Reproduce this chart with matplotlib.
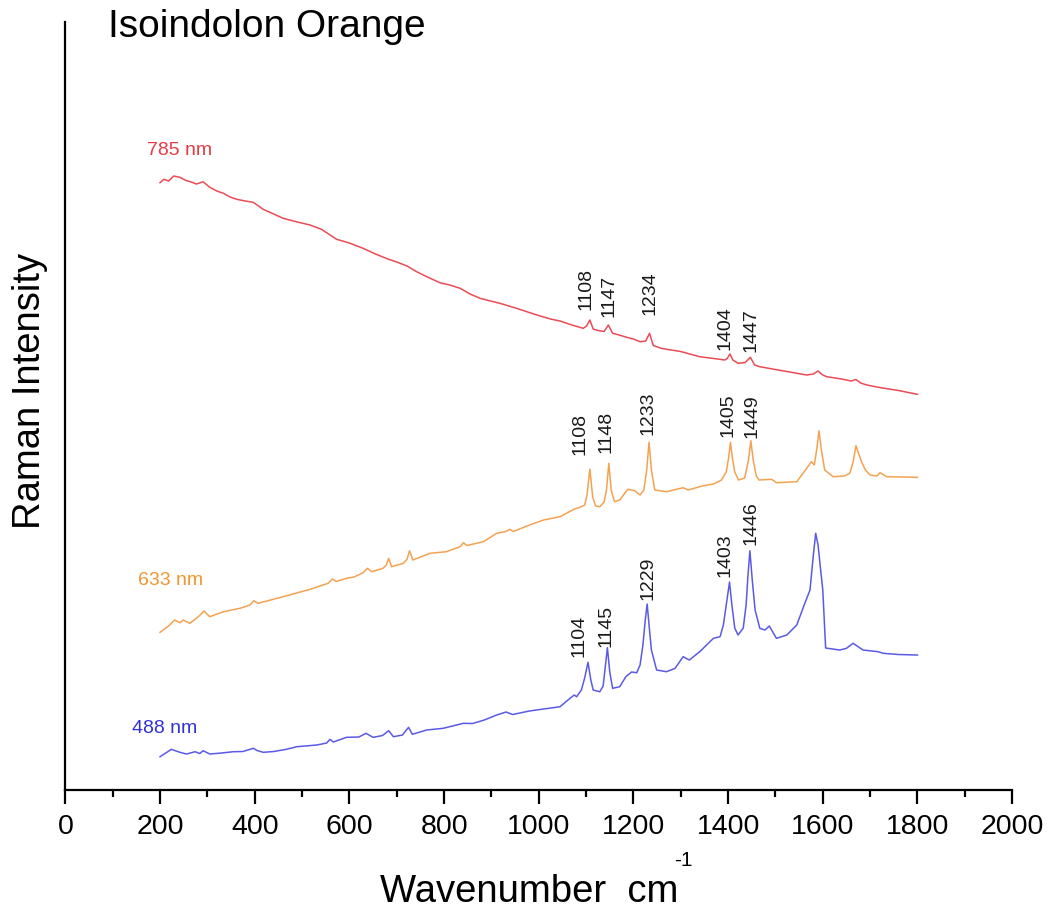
import matplotlib
matplotlib.use("Agg")
import matplotlib.pyplot as plt
from matplotlib.ticker import MultipleLocator

plt.rcParams['font.family'] = ['Liberation Sans', 'DejaVu Sans']

# 785 nm excitation
wn_785 = [200, 208, 218, 229, 242, 256, 266, 277, 291, 305, 320, 334, 348, 362, 380,
          397, 418, 440, 460, 490, 517, 541, 573, 600, 629, 655, 683, 700, 722, 742,
          765, 791, 812, 834, 855, 876, 898, 918, 953, 980, 1003, 1025, 1045, 1070,
          1094, 1101, 1108, 1115, 1125, 1138, 1147, 1156, 1170, 1186, 1200, 1214,
          1226, 1234, 1242, 1260, 1300, 1340, 1370, 1393, 1398, 1404, 1410, 1421,
          1436, 1447, 1456, 1467, 1500, 1530, 1566, 1580, 1590, 1600, 1608, 1640,
          1660, 1670, 1680, 1693, 1720, 1760, 1800]
int_785 = [607.3, 610.7, 609, 614, 612.7, 609.3, 608, 606, 608.3, 602.7, 599, 596.7,
           593, 590.7, 589, 587.7, 580.7, 576, 571.7, 568, 565, 560.7, 550.7, 547,
           541.7, 536, 530.7, 528, 524, 518.3, 513, 507.3, 505, 501.7, 496, 491.7,
           489, 486.7, 481.7, 477.5, 474, 471, 469, 465, 461.7, 464, 470, 461,
           459.5, 458.5, 465, 456.7, 455, 452.7, 451, 448.3, 449, 456.7, 444.5,
           441.5, 438.5, 433.3, 431.5, 430, 431.5, 436, 430, 426.7, 427.5, 432.7,
           425, 423.3, 420.5, 418, 415, 416, 419, 415, 413.3, 411, 409, 410.5, 407,
           405, 402.5, 399.5, 395.7]

# 633 nm excitation
wn_633 = [200, 218, 231, 242, 249, 263, 281, 293, 305, 334, 369, 390, 398, 407, 460,
          517, 555, 564, 572, 594, 610, 629, 638, 647, 671, 678, 683, 689, 714, 722,
          727, 734, 770, 805, 834, 841, 848, 883, 911, 930, 939, 946, 975, 1010,
          1045, 1074, 1087, 1097, 1102, 1108, 1114, 1120, 1129, 1138, 1143, 1148,
          1153, 1160, 1171, 1188, 1203, 1214, 1222, 1228, 1233, 1238, 1245, 1270,
          1305, 1316, 1347, 1369, 1386, 1396, 1401, 1405, 1409, 1414, 1422, 1435,
          1443, 1448, 1453, 1459, 1465, 1492, 1502, 1545, 1566, 1576, 1582, 1587,
          1592, 1597, 1604, 1622, 1645, 1657, 1664, 1670, 1676, 1682, 1690, 1700,
          1714, 1721, 1735, 1800]
int_633 = [157.7, 164, 170, 167.3, 170, 166.7, 173.3, 179, 173.3, 178.3, 181.7, 185,
           189.3, 186.7, 193.3, 200.7, 206.7, 211, 208.5, 211.7, 213, 217.3, 221.7,
           218.3, 221.7, 225, 231.7, 223.3, 226.7, 231, 239.3, 230, 236.7, 238.3,
           243.3, 247.3, 244.5, 248.3, 256.7, 258.5, 260.7, 258.5, 264, 270, 273.3,
           280.7, 282.7, 285, 295, 321, 293, 284, 283.3, 288, 300, 326.7, 300,
           288.3, 290, 300.7, 299.3, 295, 300, 320, 347.7, 320, 300, 298.3, 302.3,
           300, 304.3, 306, 310, 318, 332, 347.7, 332, 318, 310, 312, 330, 349.3,
           330, 315, 310, 310.7, 307.3, 308.3, 321.7, 328.3, 325, 340, 359.3, 340,
           320, 313.3, 314, 316.7, 328, 344.3, 336, 328, 320, 315, 314, 317.3,
           313.3, 312.7]

# 488 nm excitation
wn_488 = [200, 212, 224, 242, 256, 274, 284, 291, 305, 330, 355, 375, 397, 405, 418,
          440, 467, 489, 531, 552, 559, 566, 594, 620, 635, 650, 670, 683, 693, 712,
          725, 733, 763, 798, 841, 860, 885, 911, 931, 945, 980, 1010, 1045, 1066,
          1075, 1080, 1090, 1097, 1104, 1110, 1115, 1129, 1136, 1141, 1145, 1150,
          1156, 1171, 1184, 1196, 1207, 1214, 1220, 1225, 1229, 1233, 1238, 1249,
          1270, 1288, 1305, 1318, 1340, 1369, 1383, 1390, 1396, 1403, 1408, 1414,
          1421, 1432, 1438, 1442, 1446, 1451, 1457, 1467, 1478, 1487, 1502, 1524,
          1545, 1562, 1573, 1579, 1585, 1590, 1594, 1600, 1606, 1636, 1650, 1664,
          1685, 1717, 1728, 1760, 1800]
int_488 = [33.3, 37, 40.7, 37.7, 36, 38.3, 36.5, 39.3, 36, 37, 38.3, 38.5, 41.7, 39.5,
           37.7, 38.5, 40.7, 43.3, 45, 47, 50.7, 48, 52.7, 53, 56.7, 52.7, 54.5, 59.3,
           53.3, 55, 62.7, 55.7, 60, 61.7, 66.7, 66.5, 70, 75, 78, 75.5, 79, 81,
           83.3, 91.7, 95, 93.3, 100, 112, 127.7, 110, 100, 98.3, 104, 125, 142.3,
           118, 101.7, 103.3, 113.3, 118, 117.3, 125, 145, 170, 186, 165, 140, 120,
           118.3, 121.7, 133.3, 130, 138.3, 151.7, 153.3, 165, 185, 208, 185, 162,
           155, 162, 185, 215, 239.3, 210, 180, 161.7, 160, 164, 151.7, 155, 165,
           186.7, 200, 230, 256.7, 245, 226.7, 200, 142, 140, 141.7, 146.7, 140,
           138.3, 136.7, 135.5, 135]

# peak annotations: text, x, y (bottom of the rotated label)
peaks_785 = [('1108', 1099, 480), ('1147', 1148, 473), ('1234', 1235, 475),
             ('1404', 1393, 440), ('1447', 1449, 438)]
peaks_633 = [('1108', 1087, 335), ('1148', 1143, 337), ('1233', 1230, 355),
             ('1405', 1399, 353), ('1449', 1451, 352)]
peaks_488 = [('1104', 1085, 133), ('1145', 1142, 143), ('1229', 1231, 190),
             ('1403', 1393, 213), ('1446', 1449, 245)]

c_785, c_633, c_488 = '#ec4b55', '#f4a251', '#5a5ae6'

fig = plt.figure(figsize=(10.54, 9.13), dpi=100)
ax = fig.add_axes([0.0620, 0.1347, 0.8983, 0.8412])

ax.plot(wn_785, int_785, color=c_785, lw=1.1)
ax.plot(wn_633, int_633, color=c_633, lw=1.1)
ax.plot(wn_488, int_488, color=c_488, lw=1.1)

for peaks in (peaks_785, peaks_633, peaks_488):
    for txt, x, y in peaks:
        ax.text(x, y, txt, rotation=90, ha='center', va='bottom',
                fontsize=14, color='#1a1a1a')

ax.text(172, 640, '785 nm', color='#e63c46', fontsize=14, ha='left', va='center')
ax.text(153, 210, '633 nm', color='#f0962e', fontsize=14, ha='left', va='center')
ax.text(141, 61.5, '488 nm', color='#3232d2', fontsize=14, ha='left', va='center')

ax.set_xlim(0, 2000)
ax.set_ylim(0, 768)
ax.xaxis.set_major_locator(MultipleLocator(200))
ax.xaxis.set_minor_locator(MultipleLocator(100))
ax.set_yticks([])
for side in ('top', 'right'):
    ax.spines[side].set_visible(False)
for side in ('left', 'bottom'):
    ax.spines[side].set_linewidth(1.6)
ax.tick_params(axis='x', which='major', length=10, width=1.6, labelsize=20.5, pad=7)
ax.tick_params(axis='x', which='minor', length=5, width=1.6)

# axis titles; the unit exponent is set as a small raised text
fig.text(529 / 1054, 0.012, 'Wavenumber  cm', fontsize=27.5,
         ha='center', va='baseline')
fig.text(683 / 1054, 1 - 860 / 913, '-1', fontsize=15, ha='center', va='center')
fig.text(0.028, 0.572, 'Raman Intensity', fontsize=27.5, rotation=90,
         ha='center', va='center')
fig.text(0.1025, 0.960, 'Isoindolon Orange', fontsize=28, ha='left', va='baseline')

fig.savefig('out.png', dpi=100)
